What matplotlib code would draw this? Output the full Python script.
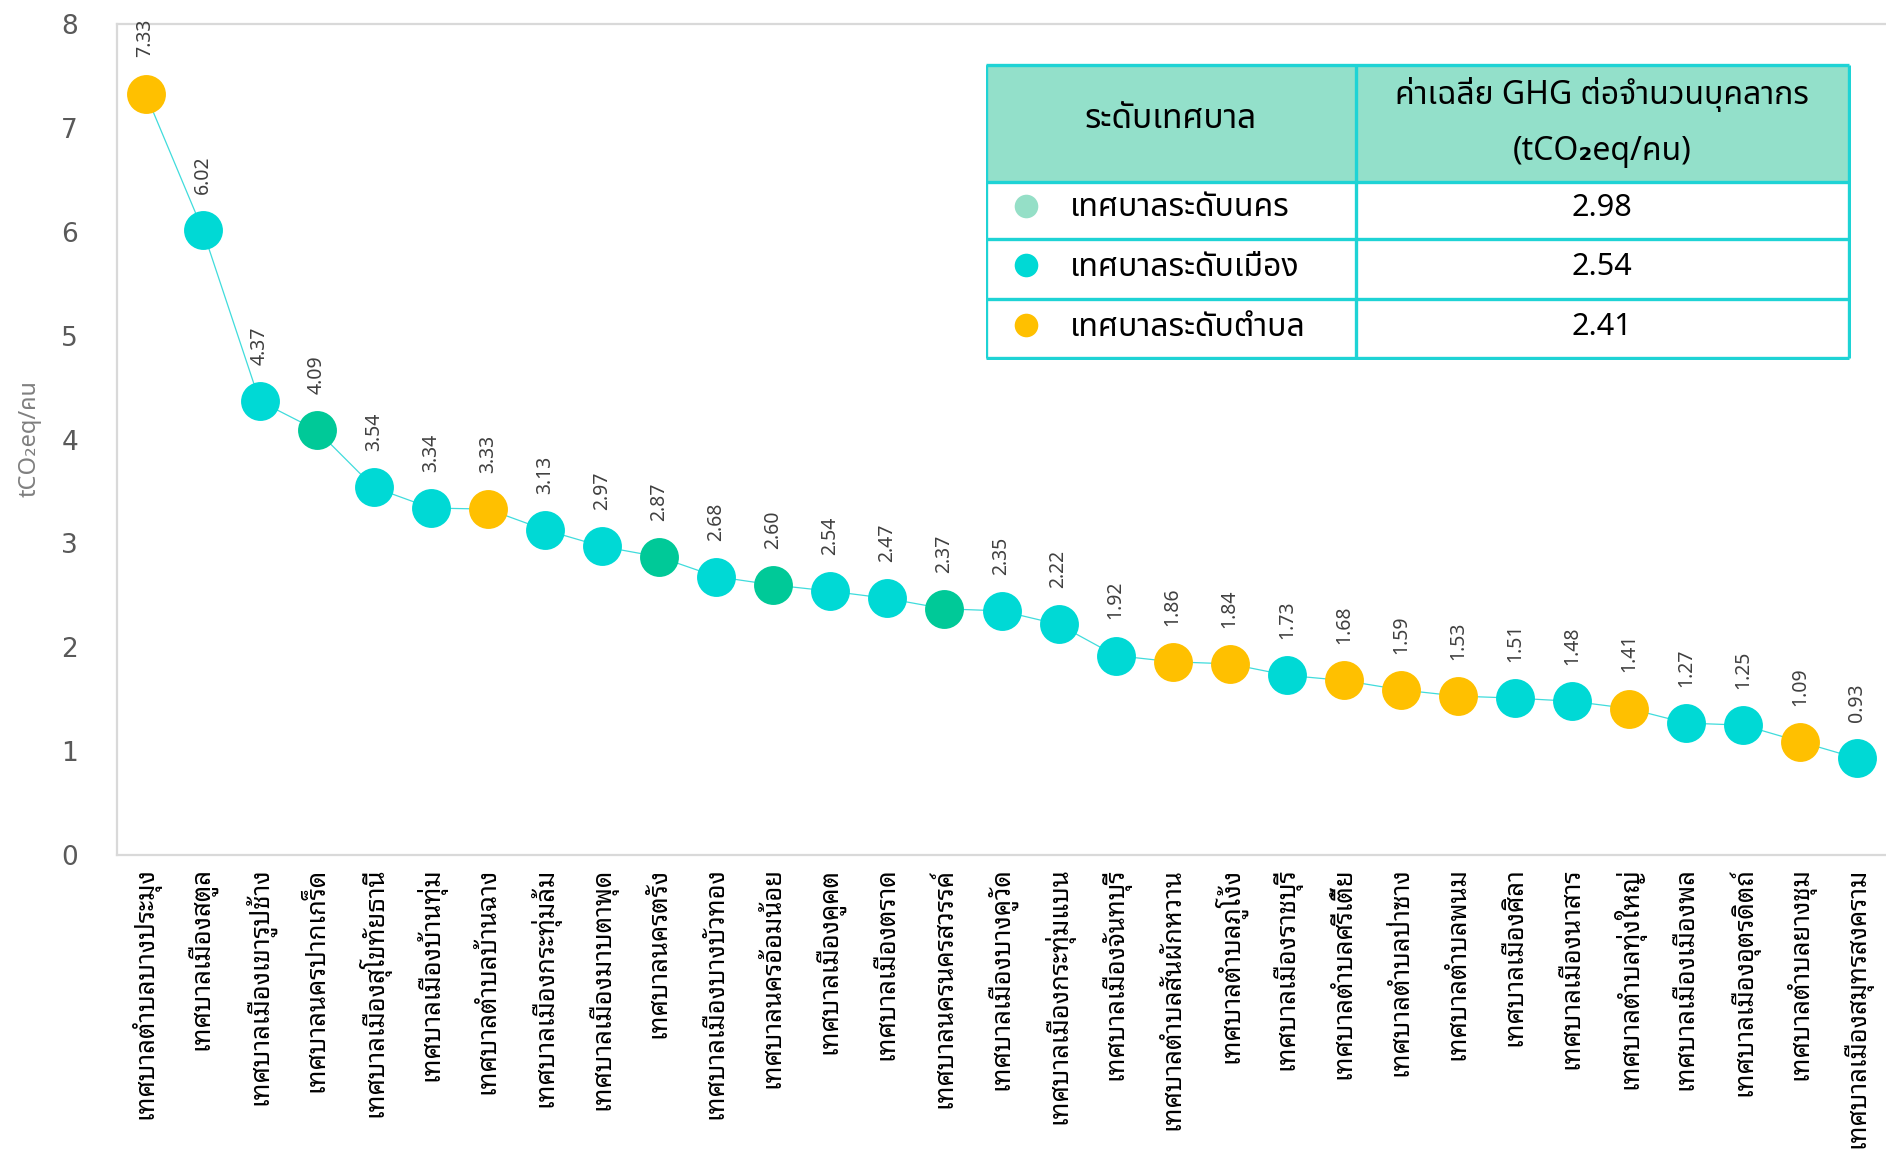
import matplotlib
matplotlib.use("Agg")
import matplotlib.pyplot as plt
from matplotlib.patches import Rectangle

# data
names = [
    "เทศบาลตำบลบางประมุง", "เทศบาลเมืองสตูล", "เทศบาลเมืองเขารูปช้าง",
    "เทศบาลนครปากเกร็ด", "เทศบาลเมืองสุโขทัยธานี", "เทศบาลเมืองบ้านทุ่ม",
    "เทศบาลตำบลบ้านฉาง", "เทศบาลเมืองกระทุ่มล้ม", "เทศบาลเมืองมาบตาพุด",
    "เทศบาลนครตรัง", "เทศบาลเมืองบางบัวทอง", "เทศบาลนครอ้อมน้อย",
    "เทศบาลเมืองคูคต", "เทศบาลเมืองตราด", "เทศบาลนครนครสวรรค์",
    "เทศบาลเมืองบางคูวัด", "เทศบาลเมืองกระทุ่มแบน", "เทศบาลเมืองจันทบุรี",
    "เทศบาลตำบลสันผักหวาน", "เทศบาลตำบลภูโง้ง", "เทศบาลเมืองราชบุรี",
    "เทศบาลตำบลศรีเตี้ย", "เทศบาลตำบลป่าซาง", "เทศบาลตำบลพนม",
    "เทศบาลเมืองศิลา", "เทศบาลเมืองนาสาร", "เทศบาลตำบลทุ่งใหญ่",
    "เทศบาลเมืองเมืองพล", "เทศบาลเมืองอุตรดิตถ์", "เทศบาลตำบลยางชุม",
    "เทศบาลเมืองสมุทรสงคราม",
]
values = [7.33, 6.02, 4.37, 4.09, 3.54, 3.34, 3.33, 3.13, 2.97, 2.87, 2.68,
          2.60, 2.54, 2.47, 2.37, 2.35, 2.22, 1.92, 1.86, 1.84, 1.73, 1.68,
          1.59, 1.53, 1.51, 1.48, 1.41, 1.27, 1.25, 1.09, 0.93]
levels = ["t", "m", "m", "n", "m", "m", "t", "m", "m", "n", "m", "n", "m",
          "m", "n", "m", "m", "m", "t", "t", "m", "t", "t", "t", "m", "m",
          "t", "m", "m", "t", "m"]

table_levels = ["เทศบาลระดับนคร", "เทศบาลระดับเมือง", "เทศบาลระดับตำบล"]
table_values = ["2.98", "2.54", "2.41"]

colors = {"t": "#FFC000", "m": "#00D9D5", "n": "#00C998"}
table_dots = ["#95DFC7", "#00D9D5", "#FFC000"]

thai = ["Noto Sans Thai Looped", "DejaVu Sans"]
thai_plain = ["Noto Sans Thai", "DejaVu Sans"]

fig = plt.figure(figsize=(18.86, 11.55), dpi=100)
ax = fig.add_axes([117 / 1886, 300 / 1155, 1769 / 1886, 831 / 1155])

x = list(range(len(values)))
ax.plot(x, values, color="#40DCDC", lw=0.9, zorder=2)
for xi, v, lv in zip(x, values, levels):
    ax.plot(xi, v, "o", ms=28, color=colors[lv], mec="none", zorder=3)
    ax.annotate("%.2f" % v, (xi, v), xytext=(0, 26), textcoords="offset points",
                rotation=90, ha="center", va="bottom", fontsize=14,
                color="#404040", family="Noto Sans")

ax.set_xlim(-0.5, len(values) - 0.5)
ax.set_ylim(0, 8)
ax.set_yticks(range(9))
ax.set_xticks(x)
ax.set_xticklabels(names, rotation=90, fontsize=18.5, fontweight="bold",
                   family=thai, color="black")
ax.tick_params(axis="x", length=0, pad=9)
ax.tick_params(axis="y", length=0, pad=28, labelsize=19, labelcolor="#595959")
for sp in ["left", "bottom", "top"]:
    ax.spines[sp].set_color("#D9D9D9")
    ax.spines[sp].set_linewidth(1.6)
ax.spines["right"].set_visible(False)

fig.text(30 / 1886, 1 - 439 / 1155, "tCO₂eq/คน", rotation=90, ha="center",
         va="center", fontsize=17, color="#7F7F7F", family=thai_plain)

# summary table drawn in pixel coordinates
tb = fig.add_axes([986 / 1886, 1 - 360 / 1155, 865 / 1886, 297 / 1155])
tb.set_xlim(986, 1851)
tb.set_ylim(360, 63)
tb.axis("off")
edge = "#1ED3D5"
tb.add_patch(Rectangle((986, 65), 863, 117, facecolor="#93E0CA", edgecolor="none"))
for yy in [65, 182, 239, 299, 358]:
    tb.plot([986, 1849], [yy, yy], color=edge, lw=2.4, solid_capstyle="butt")
for xx in [986, 1356, 1849]:
    tb.plot([xx, xx], [65, 358], color=edge, lw=2.4, solid_capstyle="butt")

tb.text(1171, 120, "ระดับเทศบาล", ha="center", va="center", fontsize=24,
        fontweight="bold", family=thai_plain, color="black")
tb.text(1602, 94, "ค่าเฉลี่ย GHG ต่อจำนวนบุคลากร", ha="center", va="center",
        fontsize=23, fontweight="bold", family=thai_plain, color="black")
tb.text(1602, 152, "(tCO₂eq/คน)", ha="center", va="center",
        fontsize=23, fontweight="bold", family=thai_plain, color="black")

row_y = [208, 267, 327]
for yy, lab, val, dc in zip(row_y, table_levels, table_values, table_dots):
    tb.plot(1026, yy - 2, "o", ms=17, color=dc, mec="none")
    tb.text(1070, yy, lab, ha="left", va="center", fontsize=23,
            family=thai_plain, color="black")
    tb.text(1602, yy, val, ha="center", va="center", fontsize=22,
            family=thai_plain, color="black")

fig.savefig("out.png", facecolor="white")
